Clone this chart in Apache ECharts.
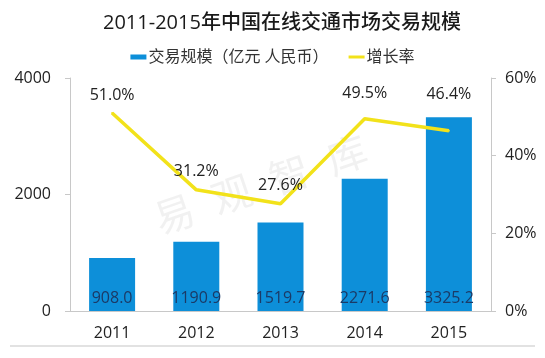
<!DOCTYPE html>
<html><head><meta charset="utf-8">
<script src="https://cdn.jsdelivr.net/npm/echarts@6/dist/echarts.min.js"></script>
<style>html,body{margin:0;padding:0;background:#fff}#c{width:545px;height:358px}</style>
</head><body><div id="c"></div>
<script>
const categories = ['2011','2012','2013','2014','2015'];
const volume = [908.0, 1190.9, 1519.7, 2271.6, 3325.2];
const growth = [51.0, 31.2, 27.6, 49.5, 46.4];
const titleText = '2011-2015年中国在线交通市场交易规模';
const barName = '交易规模（亿元 人民币）';
const lineName = '增长率';

const chart = echarts.init(document.getElementById('c'));
const font = "'Open Sans', 'Noto Sans CJK SC', sans-serif";
chart.setOption({
  animation: false,
  textStyle: {fontFamily: font},
  title: {text: titleText, left: 98, top: 8,
    textStyle: {fontSize: 20, fontWeight: 500, color: '#1a1a1a', fontFamily: font}},
  legend: {top: 44, left: 'center', itemGap: 20,
    textStyle: {fontSize: 16, color: '#333', fontFamily: font, padding: [0, 0, 0, -3]},
    data: [
      {name: barName, icon: 'rect', itemStyle: {color: '#0d8fd9'}},
      {name: lineName, icon: 'path://M0,0 L16,0 L16,3 L0,3 Z', itemStyle: {color: '#f2e21a'}}
    ],
    itemWidth: 16, itemHeight: 5},
  grid: {left: 70, right: 54, top: 78, bottom: 47},
  xAxis: {type: 'category', data: categories,
    axisLine: {lineStyle: {color: '#c8c8c8'}},
    axisTick: {show: false},
    axisLabel: {color: '#222', fontSize: 16, margin: 14}},
  yAxis: [
    {type: 'value', min: 0, max: 4000, interval: 2000,
      axisLine: {show: true, lineStyle: {color: '#c8c8c8'}},
      axisTick: {show: true, inside: false, length: 5, lineStyle: {color: '#c8c8c8'}},
      splitLine: {show: false},
      axisLabel: {color: '#222', fontSize: 16, margin: 19, formatter: v => String(v)}},
    {type: 'value', min: 0, max: 60, interval: 20, position: 'right',
      axisLine: {show: true, lineStyle: {color: '#c8c8c8'}},
      axisTick: {show: true, length: 5, lineStyle: {color: '#c8c8c8'}},
      splitLine: {show: false},
      axisLabel: {color: '#222', fontSize: 16, margin: 14, formatter: '{value}%'}}
  ],
  graphic: [
    {type: 'line', shape: {x1: 10, y1: 346, x2: 535, y2: 346}, style: {stroke: '#e2e2e2', lineWidth: 2}},
    {type: 'text', x: 150, y: 205, rotation: 0.33,
      style: {text: '易  观  智  库', fontSize: 40, fill: 'rgba(170,170,170,0.16)', fontFamily: font}}
  ],
  series: [
    {name: barName, type: 'bar', data: volume, barWidth: 46,
      itemStyle: {color: '#0d8fd9'},
      label: {show: true, position: 'insideBottom', distance: 5, color: '#1b3a66', fontSize: 16,
        formatter: p => p.value.toFixed(1)}},
    {name: lineName, type: 'line', yAxisIndex: 1, data: growth,
      symbol: 'circle', symbolSize: 2, showAllSymbol: true,
      lineStyle: {color: '#f2e21a', width: 3.5},
      itemStyle: {color: '#f2e21a'},
      label: {show: true, position: 'top', distance: 9, color: '#222', fontSize: 16,
        formatter: p => p.value.toFixed(1) + '%'},
      labelLayout: p => p.dataIndex === 4 ? {dy: -18} : (p.dataIndex === 3 ? {dy: -7} : {})}
  ]
});
</script></body></html>
